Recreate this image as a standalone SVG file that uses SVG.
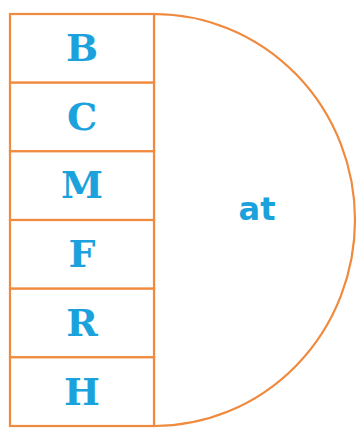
<svg xmlns="http://www.w3.org/2000/svg" width="361" height="428" viewBox="0 0 361 428">
<style>
.box{fill:#ffffff;stroke:#ef8a3e;stroke-width:2.2}
.lbl{font-family:"DejaVu Serif","Liberation Serif",serif;font-weight:bold;font-size:38px;fill:#1ba2dc;text-anchor:middle}
.at{font-family:"DejaVu Sans","Liberation Sans",sans-serif;font-weight:bold;font-size:32px;fill:#1ba2dc;text-anchor:middle}
</style>
<rect width="361" height="428" fill="#ffffff"/>
<g id="half">
<path class="box" d="M154,14 A201,206 0 0 1 154,426 Z"/>
<text class="at" x="257" y="220">at</text>
</g>
<g id="B"><rect class="box" x="10" y="14" width="144" height="68.7"/><text class="lbl" x="82" y="61">B</text></g>
<g id="C"><rect class="box" x="10" y="82.7" width="144" height="68.7"/><text class="lbl" x="82" y="130">C</text></g>
<g id="M"><rect class="box" x="10" y="151.3" width="144" height="68.7"/><text class="lbl" x="82" y="198">M</text></g>
<g id="F"><rect class="box" x="10" y="220" width="144" height="68.7"/><text class="lbl" x="82" y="267">F</text></g>
<g id="R"><rect class="box" x="10" y="288.7" width="144" height="68.7"/><text class="lbl" x="82" y="336">R</text></g>
<g id="H"><rect class="box" x="10" y="357.3" width="144" height="68.7"/><text class="lbl" x="82" y="405">H</text></g>
</svg>
